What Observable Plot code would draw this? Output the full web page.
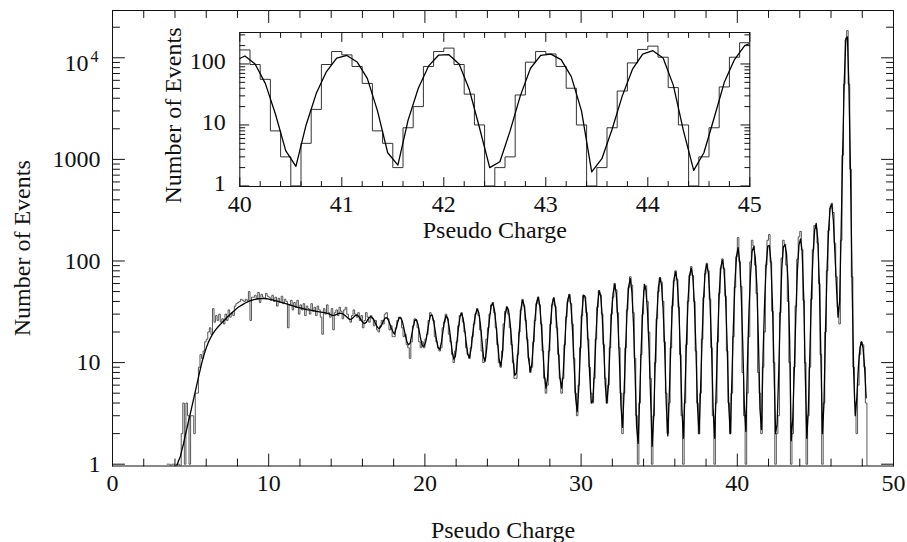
<!DOCTYPE html>
<html>
<head>
<meta charset="utf-8">
<script src="https://cdn.jsdelivr.net/npm/d3@7"></script>
<script src="https://cdn.jsdelivr.net/npm/@observablehq/plot@0.6"></script>
<style>
  body { margin: 0; background: #fff; }
  #wrap { position: relative; width: 907px; height: 542px; }
  #inset { position: absolute; left: 150px; top: 20px; }
</style>
</head>
<body>
<div id="wrap"><div id="main"></div><div id="inset"></div></div>
<script>
// ---------------- data ----------------
const histStart = 3.5;   // left edge of first bin
const binWidth = 0.1;
const histCounts = [
  1, 1, 0, 1, 1,                                   // 3.5-3.9
  0, 1, 1, 0, 2, 4, 1, 4, 3, 1,                    // 4
  3, 3, 2, 5, 5, 9, 12, 11, 13, 16,                // 5
  17, 20, 22, 19, 34, 25, 29, 26, 30, 25,          // 6
  27, 24, 30, 26, 33, 28, 31, 29, 36, 38,          // 7
  39, 40, 42, 41, 40, 42, 41, 50, 26, 44,          // 8
  44, 46, 42, 49, 39, 47, 44, 43, 48, 45,          // 9
  44, 41, 46, 40, 44, 36, 43, 39, 45, 38,          // 10
  42, 40, 22, 37, 41, 33, 39, 35, 41, 30,          // 11
  37, 33, 38, 29, 36, 34, 30, 38, 32, 35,          // 12
  29, 36, 33, 28, 19, 34, 30, 37, 31, 28,          // 13
  34, 21, 31, 33, 29, 35, 32, 27, 33, 35,          // 14
  30, 27, 25, 29, 33, 30, 28, 31, 26, 29,          // 15
  22, 26, 31, 28, 25, 29, 27, 23, 26, 21,          // 16
  20, 23, 26, 24, 30, 31, 27, 21, 23, 18,          // 17
  18, 22, 26, 28, 27, 22, 18, 19, 15, 14,          // 18
  11, 16, 23, 27, 26, 22, 16, 14, 16, 14,          // 19
  17, 19, 26, 31, 29, 26, 18, 16, 14, 13,          // 20
  14, 22, 25, 30, 27, 19, 16, 12, 10, 13,          // 21
  16, 23, 29, 31, 25, 20, 14, 12, 11, 14,          // 22
  18, 24, 30, 34, 29, 21, 13, 10, 11, 17,          // 23
  22, 30, 37, 39, 31, 22, 15, 10, 9, 13,           // 24
  24, 32, 35, 30, 22, 15, 10, 7, 7, 12,            // 25
  20, 33, 42, 36, 26, 17, 11, 8, 9, 16,            // 26
  26, 38, 44, 37, 24, 13, 7, 5, 6, 13,             // 27
  24, 37, 43, 36, 22, 12, 7, 5, 7, 15,             // 28
  28, 40, 47, 38, 24, 11, 5, 3, 6, 14,             // 29
  29, 46, 44, 31, 17, 9, 5, 4, 7, 17,              // 30
  35, 51, 46, 30, 15, 7, 4, 6, 14, 30,             // 31
  44, 60, 52, 31, 14, 5, 2, 5, 14, 33,             // 32
  55, 70, 58, 31, 11, 3, 1, 4, 12, 30,             // 33
  52, 57, 40, 20, 7, 1, 3, 10, 27, 50,             // 34
  68, 62, 40, 16, 5, 2, 4, 14, 36, 64,             // 35
  80, 66, 35, 12, 3, 1, 4, 15, 40, 72,             // 36
  88, 72, 40, 13, 4, 2, 5, 17, 44, 75,             // 37
  95, 80, 42, 14, 3, 1, 4, 16, 48, 85,             // 38
  105, 84, 45, 13, 4, 2, 5, 18, 55, 110,           // 39
  170, 98, 56, 8, 3, 1, 5, 18, 98, 160,            // 40
  141, 91, 48, 8, 5, 2, 9, 20, 91, 160,            // 41
  182, 98, 32, 10, 1, 2, 3, 31, 107, 160,          // 42
  146, 91, 40, 10, 1, 2, 9, 36, 104, 173,          // 43
  196, 129, 41, 10, 1, 3, 9, 42, 129, 223,         // 44
  210, 150, 60, 12, 1, 4, 20, 80, 200, 330,        // 45
  370, 300, 150, 70, 35, 24, 160, 1100, 5500, 15000, // 46
  18500, 5500, 800, 70, 9, 4, 2, 6, 12, 16,        // 47
  15, 9, 4, 0                                      // 48
];

const fitStart = 4.05;   // fit evaluated at bin centres
const fitStep = 0.1;
const fitValues = [
  0.9, 1.0, 1.1, 1.2, 1.4, 1.6, 1.9, 2.2, 2.6, 3.0,            // 4
  3.5, 4.1, 4.8, 5.6, 6.6, 7.7, 9.0, 10.4, 11.8, 13.2,         // 5
  14.6, 16.0, 17.2, 18.4, 19.5, 20.5, 21.5, 22.4, 23.3, 24.2,  // 6
  25.1, 26.0, 27.0, 28.0, 29.0, 30.0, 31.0, 32.0, 33.0, 34.0,  // 7
  35.0, 35.8, 36.6, 37.4, 38.2, 39.0, 39.6, 40.2, 40.8, 41.3,  // 8
  41.7, 42.0, 42.3, 42.5, 42.6, 42.7, 42.7, 42.6, 42.5, 42.3,  // 9
  42.0, 41.7, 41.4, 41.0, 40.6, 40.2, 39.8, 39.4, 39.0, 38.6,  // 10
  38.2, 37.8, 37.4, 37.0, 36.6, 36.2, 35.8, 35.4, 35.0, 34.7,  // 11
  34.4, 34.1, 33.8, 33.5, 33.2, 33.0, 32.8, 32.6, 32.4, 32.2,  // 12
  32.0, 31.8, 31.6, 31.4, 31.2, 31.0, 30.8, 30.5, 30.1, 29.7,  // 13
  29.3, 29.1, 29.3, 29.8, 30.3, 30.6, 30.5, 30.1, 29.4, 28.6,  // 14
  27.6, 26.8, 26.6, 27.2, 28.2, 29.2, 29.4, 28.6, 27.2, 25.8,  // 15
  24.6, 24.2, 25.0, 26.6, 27.9, 28.3, 27.6, 26.0, 24.0, 22.4,  // 16
  21.6, 22.2, 23.8, 25.8, 27.4, 27.7, 26.4, 24.1, 21.9, 20.2,  // 17
  19.0, 21.5, 24.8, 27.5, 27.8, 25.6, 22.0, 18.5, 16.0, 15.0,  // 18
  15.5, 18.5, 22.5, 26.0, 26.5, 24.0, 20.0, 16.5, 14.5, 14.5,  // 19
  16.0, 19.5, 24.5, 29.0, 29.5, 26.0, 21.0, 16.5, 14.0, 13.5,  // 20
  15.5, 20.0, 25.5, 29.0, 27.5, 22.5, 17.0, 12.8, 10.8, 11.5,  // 21
  16.0, 22.0, 28.5, 30.5, 27.0, 21.0, 15.5, 12.0, 11.2, 13.5,  // 22
  18.5, 24.5, 30.5, 33.5, 31.0, 24.0, 16.5, 11.5, 10.3, 13.5,  // 23
  20.0, 28.5, 36.0, 38.5, 33.0, 24.0, 16.0, 10.8, 9.3, 11.5,   // 24
  20.5, 30.0, 35.5, 33.0, 25.0, 16.5, 10.5, 7.5, 7.8, 12.0,    // 25
  21.0, 34.0, 41.0, 37.0, 27.0, 17.0, 10.5, 8.2, 9.8, 16.0,    // 26
  27.0, 39.0, 44.0, 37.0, 24.0, 13.5, 7.5, 5.6, 7.0, 13.0,     // 27
  25.0, 38.0, 43.5, 36.0, 23.0, 12.5, 7.0, 5.6, 7.5, 15.0,     // 28
  28.0, 42.0, 46.5, 37.0, 21.0, 10.0, 4.5, 3.3, 5.5, 13.0,     // 29
  30.0, 46.0, 45.0, 31.0, 16.0, 7.5, 4.0, 4.2, 8.0, 18.0,      // 30
  36.0, 51.0, 46.0, 29.0, 14.0, 6.0, 4.0, 6.0, 14.5, 31.0,     // 31
  48.0, 59.0, 48.0, 27.0, 11.0, 3.8, 2.3, 5.0, 14.0, 34.0,     // 32
  57.0, 67.0, 50.0, 25.0, 8.5, 2.4, 1.6, 4.5, 14.0, 34.0,      // 33
  59.0, 52.0, 32.0, 14.0, 4.5, 1.5, 3.0, 10.5, 29.0, 55.0,     // 34
  69.0, 58.0, 34.0, 14.0, 4.0, 1.9, 5.0, 16.0, 39.0, 67.0,     // 35
  78.0, 64.0, 36.0, 13.5, 3.6, 1.8, 5.0, 17.0, 42.0, 73.0,     // 36
  85.0, 70.0, 39.0, 14.0, 3.8, 2.0, 5.5, 18.0, 46.0, 80.0,     // 37
  93.0, 76.0, 41.0, 14.5, 3.6, 1.8, 5.5, 19.0, 50.0, 88.0,     // 38
  102.0, 82.0, 44.0, 15.0, 3.8, 2.0, 6.5, 23.0, 62.0, 112.0,   // 39
  135, 100, 48, 15, 3.8, 2.1, 10, 33, 75, 125,                 // 40
  138, 108, 58, 17, 3.5, 2.2, 12, 40, 92, 140,                 // 41
  142, 100, 38, 9, 2.0, 2.5, 8, 30, 85, 138,                   // 42
  145, 118, 62, 17, 1.7, 2.8, 8.5, 30, 82, 145,                // 43
  165, 125, 45, 8, 1.8, 3.5, 13, 50, 118, 200,                 // 44
  235, 165, 62, 12, 2.0, 4.0, 22, 85, 210, 340,                // 45
  360, 250, 120, 55, 28, 40, 200, 1300, 6000, 15500,           // 46
  16000, 5000, 700, 60, 8, 3, 4.5, 9, 14, 16,                  // 47
  14, 9, 4.5                                                   // 48
];

// axis ticks and labels
const mainXTicks = [0, 10, 20, 30, 40, 50];
const mainXTickLabels = ["0", "10", "20", "30", "40", "50"];
const mainXMinor = [2, 4, 6, 8, 12, 14, 16, 18, 22, 24, 26, 28, 32, 34, 36, 38, 42, 44, 46, 48];
const mainYTicks = [1, 10, 100, 1000, 10000];
const mainYTickLabels = ["1", "10", "100", "1000"];
const insetXTicks = [40, 41, 42, 43, 44, 45];
const insetXTickLabels = ["40", "41", "42", "43", "44", "45"];
const insetYTicks = [1, 10, 100];
const insetYTickLabels = ["1", "10", "100"];
const xTitle = "Pseudo Charge";
const yTitle = "Number of Events";

// ---------------- helpers ----------------
const FONT = "Liberation Serif";
const FS = 24;
const INK = "#111";
const mainYDomain = [0.96, 29200];
const insetYDomain = [0.98, 328];

function logMinor(maxV) {
  const out = [];
  for (let dec = 1; dec < maxV; dec *= 10)
    for (let k = 2; k <= 9; k++) if (k * dec < maxV) out.push(k * dec);
  return out;
}
const mainYMinor = logMinor(mainYDomain[1]);
const insetYMinor = logMinor(insetYDomain[1]);
const insetXMinor = [];
for (let i = 1; i < 25; i++) { const v = +(40 + i * 0.2).toFixed(1); if (v % 1 !== 0) insetXMinor.push(v); }

const tickShape = { draw(ctx, l) { ctx.moveTo(0, 0); ctx.lineTo(0, -l); } };
function ticksX(values, len) {
  return [
    Plot.vectorX(values, {x: d => d, frameAnchor: "bottom", length: len, rotate: 0, anchor: "start", shape: tickShape, stroke: INK, strokeWidth: 1}),
    Plot.vectorX(values, {x: d => d, frameAnchor: "top", length: len, rotate: 180, anchor: "start", shape: tickShape, stroke: INK, strokeWidth: 1})
  ];
}
function ticksY(values, len) {
  return [
    Plot.vectorY(values, {y: d => d, frameAnchor: "left", length: len, rotate: 90, anchor: "start", shape: tickShape, stroke: INK, strokeWidth: 1}),
    Plot.vectorY(values, {y: d => d, frameAnchor: "right", length: len, rotate: -90, anchor: "start", shape: tickShape, stroke: INK, strokeWidth: 1})
  ];
}

const histPts = histCounts.map((n, i) => ({x: +(histStart + i * binWidth).toFixed(2), n}));
histPts.push({x: +(histStart + histCounts.length * binWidth).toFixed(2), n: histCounts[histCounts.length - 1]});
const fitPts = fitValues.map((v, i) => ({x: +(fitStart + i * fitStep).toFixed(2), v}));

// ---------------- main chart ----------------
const main = Plot.plot({
  width: 907, height: 542,
  marginLeft: 112, marginRight: 14, marginTop: 10, marginBottom: 76.5,
  style: {fontFamily: FONT, background: "transparent", color: INK},
  x: {domain: [0, 50], axis: null},
  y: {type: "log", domain: mainYDomain, axis: null},
  marks: [
    Plot.line(histPts, {x: "x", y: d => Math.max(d.n, mainYDomain[0]), curve: "step-after", stroke: "#444", strokeWidth: 0.9, clip: true}),
    Plot.line(fitPts, {x: "x", y: "v", stroke: "#000", strokeWidth: 1.3, clip: true}),
    ...ticksX(mainXTicks, 12),
    ...ticksX(mainXMinor, 7),
    ...ticksY(mainYTicks, 12),
    ...ticksY(mainYMinor, 7),
    Plot.frame({stroke: INK, strokeWidth: 1}),
    Plot.text(mainXTicks, {x: d => d, frameAnchor: "bottom", dy: 17, lineAnchor: "middle", textAnchor: "middle", text: (d, i) => mainXTickLabels[i], fontSize: FS, fill: INK}),
    Plot.text(mainYTicks.slice(0, 4), {y: d => d, frameAnchor: "left", dx: -12, lineAnchor: "middle", textAnchor: "end", text: (d, i) => mainYTickLabels[i], fontSize: FS, fill: INK}),
    Plot.text([10000], {y: d => d, frameAnchor: "left", dx: -24, dy: 6, lineAnchor: "middle", textAnchor: "end", text: () => "10", fontSize: FS, fill: INK}),
    Plot.text([10000], {y: d => d, frameAnchor: "left", dx: -14, dy: -1, lineAnchor: "middle", textAnchor: "end", text: () => "4", fontSize: 16, fill: INK}),
    Plot.text([xTitle], {frameAnchor: "bottom", dy: 64, lineAnchor: "middle", textAnchor: "middle", fontSize: FS, fill: INK}),
    Plot.text([yTitle], {frameAnchor: "left", dx: -90, dy: 10, lineAnchor: "middle", textAnchor: "middle", rotate: -90, fontSize: FS, fill: INK})
  ]
});
document.getElementById("main").appendChild(main);

// ---------------- inset ----------------
const insetHist = histPts.filter(d => d.x >= 40 && d.x <= 45);
const insetFit = fitPts.filter(d => d.x >= 39.9 && d.x <= 45.1);
const inset = Plot.plot({
  width: 620, height: 230,
  marginLeft: 89.3, marginRight: 20.7, marginTop: 12, marginBottom: 64,
  style: {fontFamily: FONT, background: "transparent", color: INK, overflow: "visible"},
  x: {domain: [40, 45], axis: null},
  y: {type: "log", domain: insetYDomain, axis: null},
  marks: [
    Plot.frame({fill: "white", stroke: null}),
    Plot.line(insetHist, {x: "x", y: d => Math.max(d.n, insetYDomain[0]), curve: "step-after", stroke: "#333", strokeWidth: 1, clip: true}),
    Plot.line(insetFit, {x: "x", y: "v", stroke: "#000", strokeWidth: 1.3, clip: true}),
    ...ticksX(insetXTicks, 9),
    ...ticksX(insetXMinor, 5),
    ...ticksY(insetYTicks, 9),
    ...ticksY(insetYMinor, 5),
    Plot.frame({stroke: INK, strokeWidth: 1}),
    Plot.text(insetXTicks, {x: d => d, frameAnchor: "bottom", dy: 18, lineAnchor: "middle", textAnchor: "middle", text: (d, i) => insetXTickLabels[i], fontSize: FS, fill: INK}),
    Plot.text(insetYTicks, {y: d => d, frameAnchor: "left", dx: -14, dy: -3, lineAnchor: "middle", textAnchor: "end", text: (d, i) => insetYTickLabels[i], fontSize: FS, fill: INK}),
    Plot.text([xTitle], {frameAnchor: "bottom", dy: 44, lineAnchor: "middle", textAnchor: "middle", fontSize: FS, fill: INK}),
    Plot.text([yTitle], {frameAnchor: "left", dx: -66, dy: 6, lineAnchor: "middle", textAnchor: "middle", rotate: -90, fontSize: FS, fill: INK})
  ]
});
document.getElementById("inset").appendChild(inset);
</script>
</body>
</html>
